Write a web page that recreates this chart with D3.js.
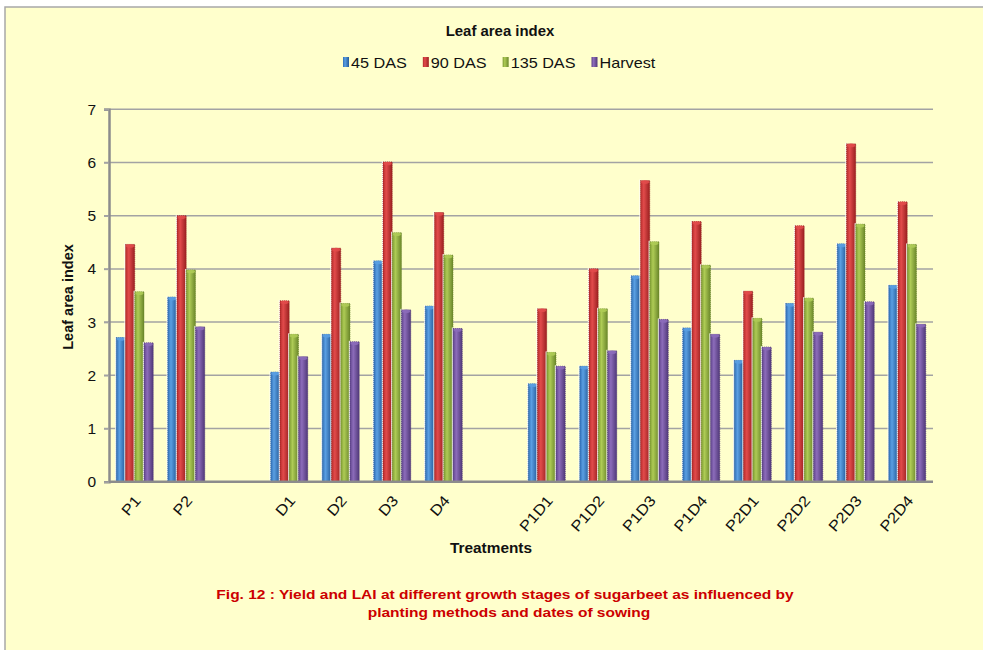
<!DOCTYPE html>
<html>
<head>
<meta charset="utf-8">
<script src="https://cdn.jsdelivr.net/npm/d3@7/dist/d3.min.js"></script>
<style>
  html, body { margin: 0; padding: 0; background: #ffffff; }
  svg { display: block; font-family: Arial, "Liberation Sans", sans-serif; }
</style>
</head>
<body>
<svg id="chart" width="983" height="650"></svg>
<script>
// Treatments along the x axis (gaps separate the three treatment groups)
const treatments = ["P1", "P2", "D1", "D2", "D3", "D4",
  "P1D1", "P1D2", "P1D3", "P1D4", "P2D1", "P2D2", "P2D3", "P2D4"];
const gapAfter = ["P2", "D4"];

// Leaf area index at each growth stage
const seriesNames = ["45 DAS", "90 DAS", "135 DAS", "Harvest"];
const das45   = [2.71, 3.47, 2.06, 2.77, 4.15, 3.30, 1.84, 2.17, 3.87, 2.89, 2.28, 3.35, 4.47, 3.69];
const das90   = [4.46, 5.00, 3.40, 4.39, 6.01, 5.06, 3.25, 4.00, 5.66, 4.89, 3.58, 4.81, 6.35, 5.26];
const das135  = [3.57, 3.98, 2.77, 3.35, 4.68, 4.26, 2.43, 3.25, 4.51, 4.07, 3.07, 3.45, 4.84, 4.46];
const harvest = [2.61, 2.91, 2.35, 2.63, 3.23, 2.88, 2.17, 2.46, 3.05, 2.77, 2.53, 2.81, 3.38, 2.96];
const seriesValues = [das45, das90, das135, harvest];

const yTicks = [0, 1, 2, 3, 4, 5, 6, 7];

// Cylinder shading per series: [edge, highlight, dark edge]
const palette = [
  ["#2F6DB5", "#5A9FE2", "#245A98"],
  ["#B52B2B", "#E24B4B", "#9A2020"],
  ["#7D9B32", "#AECB55", "#6A862A"],
  ["#60448C", "#8C6CBA", "#503878"]
];

const W = 983, H = 650;
const svg = d3.select("#chart");

// frame
svg.append("rect").attr("width", W).attr("height", H).attr("fill", "#ffffff");
svg.append("rect").attr("x", 5).attr("y", 7).attr("width", W).attr("height", H)
  .attr("fill", "#FFFFCC").attr("stroke", "#A8A8A8").attr("stroke-width", 1.5);

// gradients
const defs = svg.append("defs");
palette.forEach((c, i) => {
  const g = defs.append("linearGradient").attr("id", "grad" + i)
    .attr("x1", "0%").attr("x2", "100%").attr("y1", "0%").attr("y2", "0%");
  g.append("stop").attr("offset", "0%").attr("stop-color", c[0]);
  g.append("stop").attr("offset", "35%").attr("stop-color", c[1]);
  g.append("stop").attr("offset", "100%").attr("stop-color", c[2]);
});

// scales
const slots = [];
treatments.forEach(t => {
  slots.push(t);
  if (gapAfter.includes(t)) slots.push("gap-" + t);
});
const plotLeft = 109, plotRight = 933, plotTop = 109.3, plotBottom = 481.7;
const x0 = d3.scaleBand().domain(slots).range([plotLeft, plotRight]).paddingInner(0.28).paddingOuter(0.14);
const x1 = d3.scaleBand().domain(seriesNames).range([0, x0.bandwidth()]);
const y = d3.scaleLinear().domain([0, 7]).range([plotBottom, plotTop]);

// gridlines
svg.append("g").selectAll("line").data(yTicks.filter(d => d > 0)).join("line")
  .attr("x1", plotLeft - 5).attr("x2", plotRight)
  .attr("y1", d => y(d)).attr("y2", d => y(d))
  .attr("stroke", "#A3A3A3").attr("stroke-width", 1.5);

// y axis
const yAxis = svg.append("g").attr("transform", `translate(${plotLeft},0)`)
  .call(d3.axisLeft(y).tickValues(yTicks).tickFormat(d3.format("d")).tickSize(5).tickPadding(8));
yAxis.select(".domain").attr("stroke", "#8C8C8C").attr("stroke-width", 2.5);
yAxis.selectAll(".tick line").attr("stroke", "#A3A3A3").attr("stroke-width", 1.5);
yAxis.selectAll(".tick text").attr("font-size", 15.5).attr("fill", "#111")
  .attr("font-family", "Arial, 'Liberation Sans', sans-serif");

// bars
const barData = [];
treatments.forEach((t, i) => {
  seriesNames.forEach((s, k) => barData.push({ t, s, k, v: seriesValues[k][i] }));
});
const bw = x1.bandwidth();
const bars = svg.append("g").selectAll("g").data(barData).join("g")
  .attr("transform", d => `translate(${x0(d.t) + x1(d.s)},0)`);
bars.append("rect")
  .attr("x", -1.2).attr("y", d => y(d.v) - 1).attr("width", 1.4)
  .attr("height", d => y(0) - y(d.v) + 1)
  .attr("fill", "#ffffff").attr("opacity", 0.85);
bars.append("rect")
  .attr("x", 0).attr("y", d => y(d.v)).attr("width", bw)
  .attr("height", d => y(0) - y(d.v))
  .attr("fill", d => `url(#grad${d.k})`)
  .attr("stroke", d => palette[d.k][2]).attr("stroke-width", 0.7)
  .attr("stroke-dasharray", "1,1");
bars.append("ellipse")
  .attr("cx", bw / 2).attr("cy", d => y(d.v) + 1.5)
  .attr("rx", bw / 2 - 0.5).attr("ry", 1.8)
  .attr("fill", d => palette[d.k][1]).attr("opacity", 0.9);

// x axis line
svg.append("line").attr("x1", plotLeft).attr("x2", plotRight)
  .attr("y1", plotBottom).attr("y2", plotBottom)
  .attr("stroke", "#8C8C8C").attr("stroke-width", 2.5);

// x tick labels
svg.append("g").selectAll("text").data(treatments).join("text")
  .attr("transform", d => `translate(${x0(d) + x0.bandwidth() / 2 + 3},${plotBottom + 16}) rotate(-49) scale(1.12,1)`)
  .attr("text-anchor", "end").attr("dy", "0.35em")
  .attr("font-size", 15).attr("fill", "#111")
  .text(d => d);

// helper for horizontally stretched text
function hText(x, yPos, str, size, weight, color, sx) {
  return svg.append("text")
    .attr("transform", `translate(${x},${yPos}) scale(${sx},1)`)
    .attr("text-anchor", "middle")
    .attr("font-size", size).attr("font-weight", weight).attr("fill", color)
    .text(str);
}

// title
hText(500, 36, "Leaf area index", 14.5, "bold", "#111", 1.03);

// legend
const legend = svg.append("g");
const LSX = 1.08;
let cx = 343;
seriesNames.forEach((s, k) => {
  legend.append("rect").attr("x", cx).attr("y", 57).attr("width", 6).attr("height", 10)
    .attr("fill", `url(#grad${k})`);
  const t = legend.append("text")
    .attr("transform", `translate(${cx + 8},67.5) scale(${LSX},1)`)
    .attr("font-size", 15).attr("fill", "#111").text(s);
  const w = t.node().getComputedTextLength() * LSX;
  cx += 8 + w + 16;
});

// axis titles
svg.append("text")
  .attr("transform", `translate(73,297) rotate(-90)`)
  .attr("text-anchor", "middle").attr("font-size", 14.5).attr("font-weight", "bold")
  .attr("fill", "#111").text("Leaf area index");
hText(491, 553, "Treatments", 14, "bold", "#111", 1.1);

// caption
hText(505, 599, "Fig. 12 : Yield and LAI at different growth stages of sugarbeet  as influenced by", 13.5, "bold", "#CC0000", 1.15);
hText(509, 617, "planting methods and dates of sowing", 13.5, "bold", "#CC0000", 1.15);
</script>
</body>
</html>
